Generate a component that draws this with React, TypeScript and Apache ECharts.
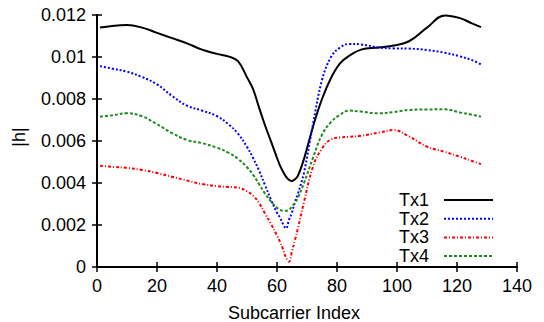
import React, { useEffect, useRef } from "react";
import * as echarts from "echarts";

const subcarriers = [1, 5, 10, 15, 20, 25, 30, 35, 40, 44, 47, 50, 52, 54, 56, 58, 60, 61, 62, 63, 64, 65, 66, 67, 69, 72, 75, 78, 81, 84, 88, 94, 99, 104, 110, 116, 121, 125, 128];

const tx1 = [0.01140, 0.01148, 0.01152, 0.01140, 0.01115, 0.01090, 0.01065, 0.01035, 0.01015, 0.01002, 0.00980, 0.00903, 0.00848, 0.00760, 0.00675, 0.00598, 0.00520, 0.00483, 0.00455, 0.00430, 0.00415, 0.00410, 0.00418, 0.00435, 0.00515, 0.00668, 0.00800, 0.00900, 0.00970, 0.01005, 0.01035, 0.01045, 0.01055, 0.01075, 0.01140, 0.01198, 0.01185, 0.01160, 0.01142];

const tx2 = [0.00956, 0.00945, 0.00930, 0.00905, 0.00870, 0.00815, 0.00768, 0.00745, 0.00718, 0.00678, 0.00635, 0.00572, 0.00520, 0.00460, 0.00390, 0.00320, 0.00258, 0.00235, 0.00205, 0.00184, 0.00225, 0.00260, 0.00310, 0.00350, 0.00450, 0.00680, 0.00890, 0.01000, 0.01045, 0.01062, 0.01060, 0.01045, 0.01041, 0.01040, 0.01033, 0.01020, 0.01003, 0.00985, 0.00965];

const tx3 = [0.00482, 0.00477, 0.00472, 0.00462, 0.00448, 0.00430, 0.00412, 0.00395, 0.00385, 0.00381, 0.00378, 0.00360, 0.00340, 0.00305, 0.00255, 0.00205, 0.00150, 0.00120, 0.00085, 0.00045, 0.00025, 0.00075, 0.00130, 0.00185, 0.00310, 0.00478, 0.00565, 0.00608, 0.00617, 0.00620, 0.00625, 0.00640, 0.00652, 0.00622, 0.00573, 0.00548, 0.00525, 0.00505, 0.00490];

const tx4 = [0.00716, 0.00722, 0.00732, 0.00718, 0.00680, 0.00638, 0.00605, 0.00590, 0.00568, 0.00543, 0.00515, 0.00475, 0.00440, 0.00395, 0.00350, 0.00312, 0.00282, 0.00272, 0.00268, 0.00268, 0.00272, 0.00288, 0.00305, 0.00330, 0.00400, 0.00520, 0.00630, 0.00690, 0.00725, 0.00745, 0.00740, 0.00732, 0.00738, 0.00748, 0.00750, 0.00751, 0.00736, 0.00725, 0.00716];

const seriesNames = ["Tx1", "Tx2", "Tx3", "Tx4"];
const seriesValues = [tx1, tx2, tx3, tx4];
const seriesColors = ["#000000", "#0000ff", "#ff0000", "#1f8a1f"];
const seriesDash: any[] = ["solid", [2, 2], [3, 2, 1, 2], [3, 2]];

const FONT = "Liberation Sans, Arial, sans-serif";

export default function App() {
  const ref = useRef<HTMLDivElement>(null);
  useEffect(() => {
    if (!ref.current) return;
    const chart = echarts.init(ref.current, null, { renderer: "svg" });
    const axisLine = { lineStyle: { color: "#000", width: 2 } };
    const tickIn = { inside: true, length: 5, lineStyle: { color: "#000", width: 1.5 } };
    const labelStyle = { color: "#000", fontSize: 18, fontFamily: FONT };
    chart.setOption({
      animation: false,
      grid: { left: 97, right: 27, top: 15, bottom: 55, outerBoundsMode: "none", containLabel: false },
      legend: {
        data: seriesNames,
        orient: "vertical",
        align: "right",
        right: 45,
        top: 186,
        itemWidth: 49,
        itemHeight: 10,
        itemGap: 0.7,
        itemStyle: { opacity: 0 },
        textStyle: { color: "#000", fontSize: 18, fontFamily: FONT, lineHeight: 17, padding: [0, 10, 0, 0] },
      },
      xAxis: [
        {
          type: "value",
          min: 0,
          max: 140,
          interval: 20,
          position: "bottom",
          name: "Subcarrier Index",
          nameLocation: "middle",
          nameGap: 37,
          nameTextStyle: { ...labelStyle, padding: [0, 26, 0, 0] },
          axisLine,
          axisTick: tickIn,
          axisLabel: { ...labelStyle, margin: 10 },
          splitLine: { show: false },
        },
        {
          type: "value",
          min: 0,
          max: 140,
          interval: 20,
          position: "top",
          axisLine,
          axisTick: tickIn,
          axisLabel: { show: false },
          splitLine: { show: false },
        },
      ],
      yAxis: [
        {
          type: "value",
          min: 0,
          max: 0.012,
          interval: 0.002,
          position: "left",
          name: "|h|",
          nameLocation: "middle",
          nameGap: 69,
          nameTextStyle: { ...labelStyle, padding: [0, 0, 0, 8] },
          axisLine,
          axisTick: tickIn,
          axisLabel: { ...labelStyle, margin: 11, formatter: (v: number) => String(+v.toFixed(3)) },
          splitLine: { show: false },
        },
        {
          type: "value",
          min: 0,
          max: 0.012,
          interval: 0.002,
          position: "right",
          axisLine,
          axisTick: tickIn,
          axisLabel: { show: false },
          splitLine: { show: false },
        },
      ],
      series: seriesNames.map((name, i) => ({
        name,
        type: "line",
        smooth: 0.4,
        symbol: "none",
        data: subcarriers.map((x, j) => [x, seriesValues[i][j]]),
        lineStyle: { color: seriesColors[i], width: 2, type: seriesDash[i] },
        itemStyle: { color: seriesColors[i] },
      })),
    });
    return () => chart.dispose();
  }, []);
  return <div ref={ref} style={{ width: 544, height: 322, position: "absolute", left: 0, top: 0 }} />;
}
